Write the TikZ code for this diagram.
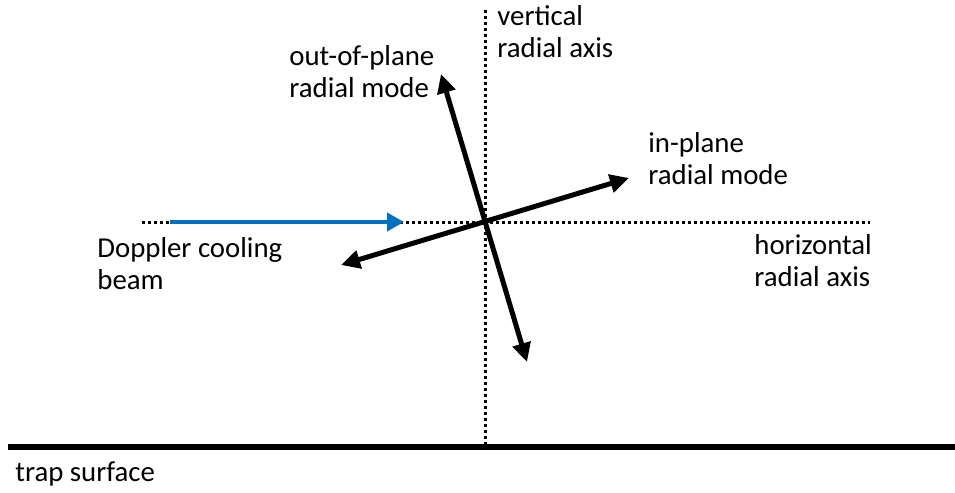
\documentclass[tikz,border=0pt]{standalone}
\usepackage{fontspec}
\setmainfont{Carlito}
\usepackage{xcolor}
\usetikzlibrary{arrows.meta,positioning}
\definecolor{beamblue}{HTML}{0070C0}

\begin{document}
\begin{tikzpicture}[
  x=0.5pt, y=-0.5pt,
  font=\fontsize{14.4}{16}\selectfont,
  lbl/.style={anchor=north west, inner sep=0pt, align=left},
  axis/.style={line width=1.5pt, dash pattern=on 1.5pt off 1.5pt},
  mode/.style={{Triangle[length=9.5pt,width=9pt]}-{Triangle[length=9.5pt,width=9pt]}, line width=2.5pt},
  beam/.style={-{Triangle[length=8.5pt,width=9pt]}, line width=2pt, beamblue},
]
  \useasboundingbox (0,0) rectangle (955,493);
  % axes
  \coordinate (ion) at (485,222);
  \coordinate (vtop) at (485,10);
  \coordinate (vbot) at (485,445);
  \coordinate (hleft) at (142,222);
  \coordinate (hright) at (870,222);
  \draw[axis] (vtop) -- (vbot);
  \draw[axis] (hleft) -- (hright);
  % trap surface
  \coordinate (sl) at (8,447);
  \coordinate (sr) at (955,447);
  \draw[line width=3pt] (sl) -- (sr);
  % cooling beam
  \coordinate (bstart) at (170,222);
  \coordinate (bend) at (404,222);
  \draw[beam] (bstart) -- (bend);
  % radial modes
  \coordinate (oop1) at (441,74);
  \coordinate (oop2) at (527,362);
  \coordinate (ip1) at (341,265);
  \coordinate (ip2) at (629,178);
  \draw[mode] (oop2) -- (oop1);
  \draw[mode] (ip1) -- (ip2);
  % labels
  \node[lbl] (vlab) at (497,5) {vertical\\radial axis};
  \node[lbl] (oplab) at (289,45) {out-of-plane\\radial mode};
  \node[lbl] (iplab) at (648,132) {in-plane\\radial mode};
  \node[lbl] (blab) at (97,237) {Doppler cooling\\beam};
  \node[lbl] (hlab) at (754,234) {horizontal\\radial axis};
  \node[lbl] (tlab) at (15,461) {trap surface};
\end{tikzpicture}
\end{document}
